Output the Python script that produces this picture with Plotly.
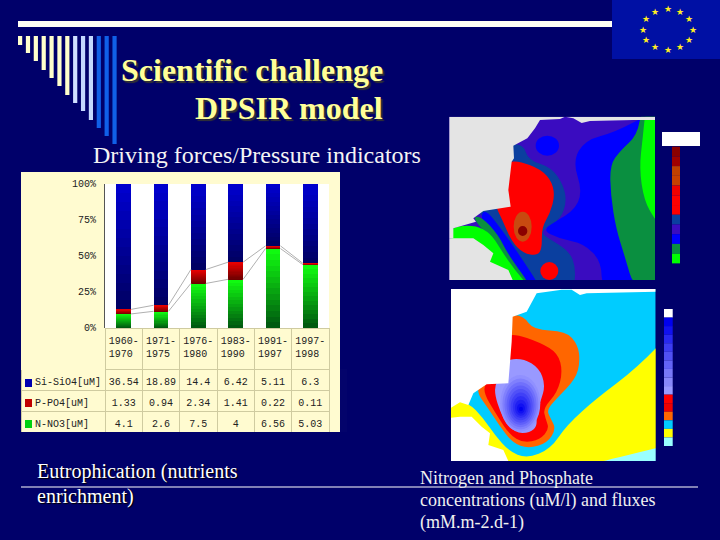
import math
import plotly.graph_objects as go

W, H = 720, 540

# chart data
periods = ["1960-<br>1970", "1971-<br>1975", "1976-<br>1980", "1983-<br>1990", "1991-<br>1997", "1997-<br>1998"]
si_sio4 = [36.54, 18.89, 14.4, 6.42, 5.11, 6.3]
p_po4 = [1.33, 0.94, 2.34, 1.41, 0.22, 0.11]
n_no3 = [4.1, 2.6, 7.5, 4, 6.56, 5.03]
row_names = ["Si-SiO4[uM]", "P-PO4[uM]", "N-NO3[uM]"]
y_ticks = [0, 25, 50, 75, 100]
y_labels = ["0%", "25%", "50%", "75%", "100%"]

NAVY = "#00006A"
CREAM = "#FFFBD0"
GRID = "#CFCBA0"
SERIF = "Liberation Serif"
MONO = "Liberation Mono"


def px(x):
    return x / W


def py(y):
    return 1 - y / H


def mix(c1, c2, t):
    return "rgb(%d,%d,%d)" % tuple(round(a + (b - a) * t) for a, b in zip(c1, c2))


MAP1 = (440, 105)
MAP2 = (440, 285)
map1_layers = [
    ("#3A0CC0", [(28, 35), (645, 35), (645, 525), (28, 525)]),
    ("#0000FF", [(640, 20), (525, 82), (435, 105), (398, 170), (428, 260), (400, 322), (300, 372), (360, 402), (432, 416),
                 (485, 470), (485, 560), (720, 560), (720, 20)]),
    ("#0A8F40", [(605, 10), (592, 90), (540, 138), (510, 180), (512, 270), (528, 370), (553, 450), (585, 560),
                 (720, 560), (720, 10)]),
    ("#00FF00", [(618, 0), (608, 100), (598, 190), (612, 285), (645, 345), (720, 440), (720, 0)]),
    ("#0A3F9F", [(200, 118), (250, 118), (265, 165), (335, 188), (370, 240), (380, 290), (362, 342), (320, 365), (305, 385),
                 (325, 400), (388, 438), (408, 490), (400, 560), (285, 560), (230, 470), (190, 410), (130, 340), (105, 300)]),
    ("#0000FF", [(135, 310), (190, 380), (245, 460), (310, 560), (265, 560), (200, 460), (165, 400), (120, 340)]),
    ("#0A8F40", [(95, 335), (125, 335), (175, 390), (205, 450), (285, 560), (218, 560), (160, 450), (150, 400)]),
    ("#00FF00", [(30, 366), (105, 360), (152, 385), (180, 430), (220, 490), (280, 560), (200, 560), (120, 430), (30, 410)]),
    ("#FF0000", [(200, 160), (290, 185), (332, 222), (345, 270), (330, 325), (305, 368), (306, 430), (292, 452), (250, 445),
                 (215, 410), (185, 340), (165, 300), (170, 230)]),
]
map1_land = [
    [(28, 35), (375, 35), (360, 42), (300, 45), (285, 70), (262, 100), (220, 122), (222, 160), (215, 170), (205, 255),
     (212, 305), (130, 318), (100, 340), (108, 350), (40, 370), (40, 400), (28, 400)],
    [(28, 400), (40, 400), (100, 400), (130, 420), (160, 445), (150, 470), (205, 495), (218, 525), (28, 525)],
    [(375, 35), (645, 35), (645, 45), (580, 45), (450, 48), (425, 54), (400, 40)],
]
map2_layers = [
    ("#00CCFF", [(33, 12), (647, 12), (647, 528), (33, 528)]),
    ("#FFFF00", [(0, 385), (0, 335), (85, 352), (130, 400), (165, 450), (205, 497), (260, 521), (332, 492),
                 (380, 420), (470, 340), (590, 250), (720, 115), (720, 560), (0, 560)]),
    ("#99FFFF", [(380, 555), (470, 533), (647, 490), (760, 463), (760, 560), (380, 560)]),
    ("#FF6600", [(200, 90), (250, 92), (280, 135), (378, 138), (414, 180), (420, 230), (407, 282), (350, 340), (320, 375),
                 (332, 400), (348, 432), (322, 474), (265, 491), (218, 474), (178, 422), (148, 375), (105, 315), (140, 280)]),
    ("#FF0000", [(190, 160), (220, 145), (302, 173), (354, 205), (368, 260), (352, 322), (310, 370), (316, 400), (328, 432),
                 (300, 464), (250, 474), (208, 448), (173, 395), (125, 315), (150, 280)]),
    ("#9999FF", [(190, 225), (250, 220), (298, 250), (316, 300), (302, 350), (287, 385), (292, 422), (270, 444), (225, 444),
                 (188, 402), (158, 310), (185, 270)]),
]
map2_land = [
    [(33, 12), (647, 12), (647, 20), (440, 25), (420, 30), (395, 14), (365, 14), (290, 25), (260, 80), (218, 95), (215, 170),
     (205, 295), (140, 298), (100, 325), (85, 360), (60, 352), (33, 368)],
    [(33, 398), (60, 395), (95, 395), (125, 425), (150, 445), (145, 480), (190, 495), (205, 528), (33, 528)],
]
bar1_cells = ["#8B0000", "#A00000", "#C04000", "#C84000", "#F00000", "#FF0000", "#FF0000", "#0A3F9F", "#3A0CC0", "#0000FF", "#0A8F40", "#00FF00"]
bar2_cells = ["#FFFFFF", "#0000EE", "#1111F0", "#2828F0", "#3C3CF2", "#5050F4", "#6464F6", "#7878F8", "#8888FA", "#9999FF",
              "#FF0000", "#F00000", "#FF6600", "#00CCFF", "#FFFF00", "#99FFFF"]
stripe_bottoms = [45, 53, 61, 70, 78, 86, 95, 103, 111, 120, 128, 136, 144]
stripe_colors = ["#FFFFCC"] * 7 + ["#D0E0FF", "#C4D8FF", "#C4D8FF", "#1060E8", "#1060E8", "#1060E8"]

shapes = []


def rect(x0, y0, x1, y1, color, layer="below"):
    shapes.append(dict(type="rect", xref="paper", yref="paper", x0=px(x0), x1=px(x1), y0=py(y0), y1=py(y1),
                       fillcolor=color, line_width=0, layer=layer))


def blob(origin, pts, color):
    # rounded outline through the midpoints of the listed points
    p = [(px(origin[0] + a / 3), py(origin[1] + b / 3)) for a, b in pts]
    mids = [((p[i][0] + p[(i + 1) % len(p)][0]) / 2, (p[i][1] + p[(i + 1) % len(p)][1]) / 2) for i in range(len(p))]
    d = "M%f,%f" % mids[-1]
    for i in range(len(p)):
        d += " Q%f,%f %f,%f" % (p[i][0], p[i][1], mids[i][0], mids[i][1])
    shapes.append(dict(type="path", xref="paper", yref="paper", path=d + " Z", fillcolor=color, line_width=0, layer="below"))


def poly(origin, pts, color):
    p = [(px(origin[0] + a / 3), py(origin[1] + b / 3)) for a, b in pts]
    d = "M" + " L".join("%f,%f" % q for q in p) + " Z"
    shapes.append(dict(type="path", xref="paper", yref="paper", path=d, fillcolor=color, line_width=0, layer="below"))


def ellipse(origin, cx, cy, rx, ry, color):
    shapes.append(dict(type="circle", xref="paper", yref="paper", x0=px(origin[0] + (cx - rx) / 3), x1=px(origin[0] + (cx + rx) / 3),
                       y0=py(origin[1] + (cy - ry) / 3), y1=py(origin[1] + (cy + ry) / 3), fillcolor=color, line_width=0, layer="below"))


# header decoration
rect(18, 21, 612, 27, "#FFFFF4")
for i, (bottom, color) in enumerate(zip(stripe_bottoms, stripe_colors)):
    rect(18 + i * 7.87, 36, 22.2 + i * 7.87, bottom, color)
rect(612, 0, 720, 59, "#0010A4")

# chart panel
rect(21, 172, 340, 432, CREAM)
rect(105, 184, 329, 328, "#FFFFFF")

# upper map
for i, (color, pts) in enumerate(map1_layers):
    (poly if i == 0 else blob)(MAP1, pts, color)
ellipse(MAP1, 248, 365, 27, 45, "#C84A10")
ellipse(MAP1, 248, 378, 14, 15, "#8B0000")
ellipse(MAP1, 322, 122, 35, 30, "#0000FF")
ellipse(MAP1, 328, 498, 27, 27, "#FF0000")
for pts in map1_land:
    poly(MAP1, pts, "#E4E4E4")

# lower map
for i, (color, pts) in enumerate(map2_layers):
    (poly if i == 0 else blob)(MAP2, pts, color)
for k in range(10):
    t = k / 9
    ellipse(MAP2, 241 + 2 * t, 355 + 17 * t, 60 - 54 * t, 85 - 78 * t, mix((0x90, 0x90, 0xFF), (0x00, 0x00, 0xF0), t))
for pts in map2_land:
    poly(MAP2, pts, "#FFFFFF")

# trim the map layers back to their frames
rect(445, 95, 720, 116.7, NAVY)
rect(655, 95, 720, 285, NAVY)
rect(445, 280, 720, 289, NAVY)
rect(655.7, 285, 720, 482, NAVY)
rect(436, 461, 720, 482, NAVY)
rect(436, 280, 451, 482, NAVY)

# colour keys beside the maps
rect(662, 132, 700, 146, "#FFFFFF")
step = (475 - 125) / 3 / len(bar1_cells)
for i, color in enumerate(bar1_cells):
    rect(672, 146.7 + i * step, 680, 146.7 + (i + 1) * step, color)
step = (483 - 72) / 3 / len(bar2_cells)
for i, color in enumerate(bar2_cells):
    rect(664, 309 + i * step, 672.7, 309 + (i + 1) * step, color)

# rule above the captions
rect(21, 486.5, 698, 487.5, "#FFFFFF")

annotations = []


def label(text, x, y, size, color="#FFFFFF", anchor="left", bold=False, shadow=None, family=SERIF):
    annotations.append(dict(text="<b>%s</b>" % text if bold else text, xref="paper", yref="paper", x=px(x), y=py(y),
                            xanchor=anchor, yanchor="middle", showarrow=False, borderpad=0, borderwidth=0,
                            font=dict(family=family, size=size, color=color, shadow=shadow or "none")))


label("Scientific challenge", 121, 70, 32, "#FFFF99", bold=True, shadow="2px 2px 1px #333333")
label("DPSIR model", 383, 108, 32, "#FFFF99", anchor="right", bold=True, shadow="2px 2px 1px #333333")
label("Driving forces/Pressure indicators", 93, 155, 24, "#F4F4F4")
label("Eutrophication (nutrients", 37, 471, 20, shadow="1px 1px 1px #000000")
label("enrichment)", 37, 496, 20, shadow="1px 1px 1px #000000")
label("Nitrogen and Phosphate", 420, 478, 18, "#F0F0F0")
label("concentrations (uM/l) and fluxes", 420, 500, 18, "#F0F0F0")
label("(mM.m-2.d-1)", 420, 522, 18, "#F0F0F0")

for k in range(12):
    a = 2 * math.pi * k / 12
    label("★", 667.5 + 25 * math.sin(a), 29.7 - 20.5 * math.cos(a), 9, "#FFEE22", anchor="center", family="DejaVu Sans")

# value axis labels sit over the table's top edge, so they go in as annotations
for tick, text in zip(y_ticks, y_labels):
    annotations.append(dict(text=text, xref="paper", yref="y", x=px(97), y=tick, xanchor="right", yanchor="middle",
                            showarrow=False, borderpad=0, font=dict(family=MONO, size=10, color="#222222")))

fig = go.Figure()

# stacked bars, each series cut in slices for the top-to-bottom shading
SLICES = 14
x_pos = list(range(len(periods)))
BAR = 0.4
series = [
    (n_no3, (0, 90, 16), (16, 250, 16)),
    (p_po4, (110, 0, 0), (230, 0, 0)),
    (si_sio4, (0, 0, 100), (0, 0, 205)),
]
for vals, low, high in series:
    for s in range(SLICES):
        fig.add_trace(go.Bar(x=x_pos, y=[v / SLICES for v in vals], width=BAR, showlegend=False,
                             marker=dict(color=mix(low, high, s / (SLICES - 1)), line_width=0)))

# thin lines joining the tops of the series
totals = [a + b + c for a, b, c in zip(si_sio4, p_po4, n_no3)]
top_n = [100 * n / t for n, t in zip(n_no3, totals)]
top_p = [100 * (n + p) / t for n, p, t in zip(n_no3, p_po4, totals)]
for tops in (top_n, top_p):
    xs, ys = [], []
    for i in range(len(tops) - 1):
        xs += [i + BAR / 2, i + 1 - BAR / 2, None]
        ys += [tops[i], tops[i + 1], None]
    fig.add_trace(go.Scatter(x=xs, y=ys, mode="lines", line=dict(color="#B0B0B0", width=1), showlegend=False))

fig.add_trace(go.Table(
    domain=dict(x=[px(21), px(329)], y=[py(432), py(328)]),
    columnwidth=[84] + [37.33] * 6,
    header=dict(values=[""] + periods, height=41, fill_color=CREAM, align="center",
                line=dict(color=[CREAM] + [GRID] * 6, width=1), font=dict(family=MONO, size=10, color="#222222")),
    cells=dict(values=[["\u00a0" + r for r in row_names]] + [[a, b, c] for a, b, c in zip(si_sio4, p_po4, n_no3)],
               height=21, fill_color=CREAM, align=["left"] + ["center"] * 6,
               line=dict(color=GRID, width=1), font=dict(family=MONO, size=10, color="#222222")),
))

# legend keys in the table
for y0, color in zip((387, 407, 428), ("#0000B0", "#C00000", "#00D010")):
    shapes.append(dict(type="rect", xref="paper", yref="paper", x0=px(25), x1=px(32), y0=py(y0 - 8), y1=py(y0),
                       fillcolor=color, line_width=0, layer="above"))

fig.update_layout(
    width=W, height=H, margin=dict(l=0, r=0, t=0, b=0, pad=0, autoexpand=False), paper_bgcolor=NAVY,
    plot_bgcolor="rgba(0,0,0,0)",
    barmode="stack", barnorm="percent", bargap=0.6, showlegend=False, shapes=shapes, annotations=annotations,
    xaxis=dict(domain=[px(105), px(329)], range=[-0.5, 5.5], showgrid=False, showticklabels=False, ticks="", zeroline=False,
               showline=True, linecolor="#555555", linewidth=1),
    yaxis=dict(domain=[py(328), py(184)], range=[0, 100], showgrid=False, zeroline=False, showticklabels=False,
               showline=True, linecolor="#555555", linewidth=1, ticks=""),
)

fig.write_html("out.html", config={"displayModeBar": False},
               post_script="document.body.style.margin='0';document.body.style.overflow='hidden';")
